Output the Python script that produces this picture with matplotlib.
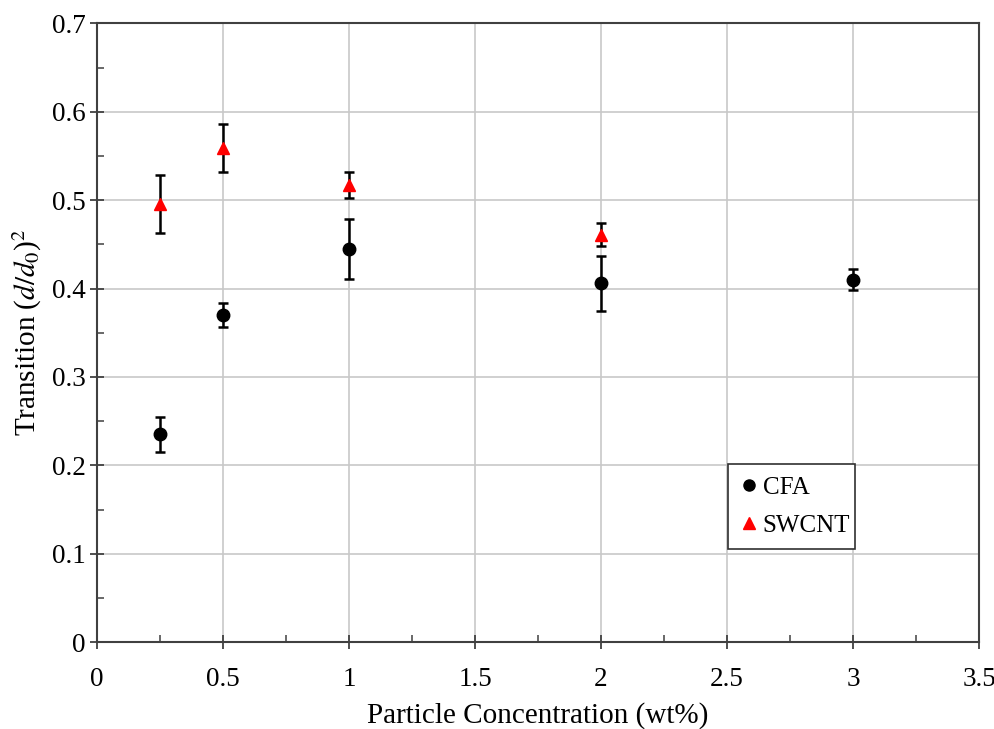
import matplotlib
matplotlib.use("Agg")
import matplotlib.pyplot as plt
from matplotlib.ticker import MultipleLocator, FuncFormatter
from matplotlib.lines import Line2D

plt.rcParams['font.family'] = ['Liberation Serif', 'DejaVu Serif']
plt.rcParams['mathtext.fontset'] = 'stix'

cfa_x = [0.25, 0.5, 1.0, 2.0, 3.0]
cfa_y = [0.235, 0.370, 0.445, 0.406, 0.410]
cfa_err = [0.020, 0.014, 0.034, 0.031, 0.012]

swcnt_x = [0.25, 0.5, 1.0, 2.0]
swcnt_y = [0.496, 0.559, 0.517, 0.461]
swcnt_err = [0.033, 0.027, 0.015, 0.013]

series_labels = ['CFA', 'SWCNT']

fig = plt.figure(figsize=(9.95, 7.29), dpi=100)
ax = fig.add_axes([0.0975, 0.119, 0.8865, 0.849])

spine_c = '#404040'
ax.errorbar(cfa_x, cfa_y, yerr=cfa_err, fmt='o', color='black', ms=9,
            ecolor='black', elinewidth=1.8, capsize=3.5, capthick=1.8,
            zorder=3)
ax.errorbar(swcnt_x, swcnt_y, yerr=swcnt_err, fmt='^', color='#ff0000', ms=9,
            ecolor='black', elinewidth=1.8, capsize=3.5, capthick=1.8,
            zorder=3)

ax.set_xlim(0, 3.5)
ax.set_ylim(0, 0.7)
ax.xaxis.set_major_locator(MultipleLocator(0.5))
ax.xaxis.set_minor_locator(MultipleLocator(0.25))
ax.yaxis.set_major_locator(MultipleLocator(0.1))
ax.yaxis.set_minor_locator(MultipleLocator(0.05))
fmt = FuncFormatter(lambda v, p: ('%g' % round(v, 2)))
ax.xaxis.set_major_formatter(fmt)
ax.yaxis.set_major_formatter(fmt)

ax.grid(True, which='major', color='#c8c8c8', linewidth=1.2, zorder=0)
ax.set_axisbelow(True)
for s in ax.spines.values():
    s.set_color(spine_c)
    s.set_linewidth(1.5)

ax.tick_params(which='major', direction='inout', length=10, width=1.3,
               color=spine_c, labelsize=19.5, pad=13)
ax.tick_params(which='minor', direction='in', length=5, width=1.1, color=spine_c)
ax.tick_params(axis='y', which='major', pad=3)

ax.set_xlabel('Particle Concentration (wt%)', fontsize=21, labelpad=7)
ax.set_ylabel(r'Transition ($d/d_0$)$^2$', fontsize=21, labelpad=6)

handles = [Line2D([], [], ls='none', marker='o', color='black', ms=8),
           Line2D([], [], ls='none', marker='^', color='#ff0000', ms=8)]
leg = ax.legend(handles, series_labels, loc='lower left',
                bbox_to_anchor=(0.715, 0.150, 0.144, 0.131),
                mode='expand', fontsize=18, frameon=True, fancybox=False,
                handletextpad=0.2, borderpad=0.5, labelspacing=0.62,
                handlelength=0.7, borderaxespad=0)
leg.get_frame().set_edgecolor('#303030')
leg.get_frame().set_linewidth(1.2)
leg.get_frame().set_alpha(1)

fig.savefig('out.png', dpi=100)
